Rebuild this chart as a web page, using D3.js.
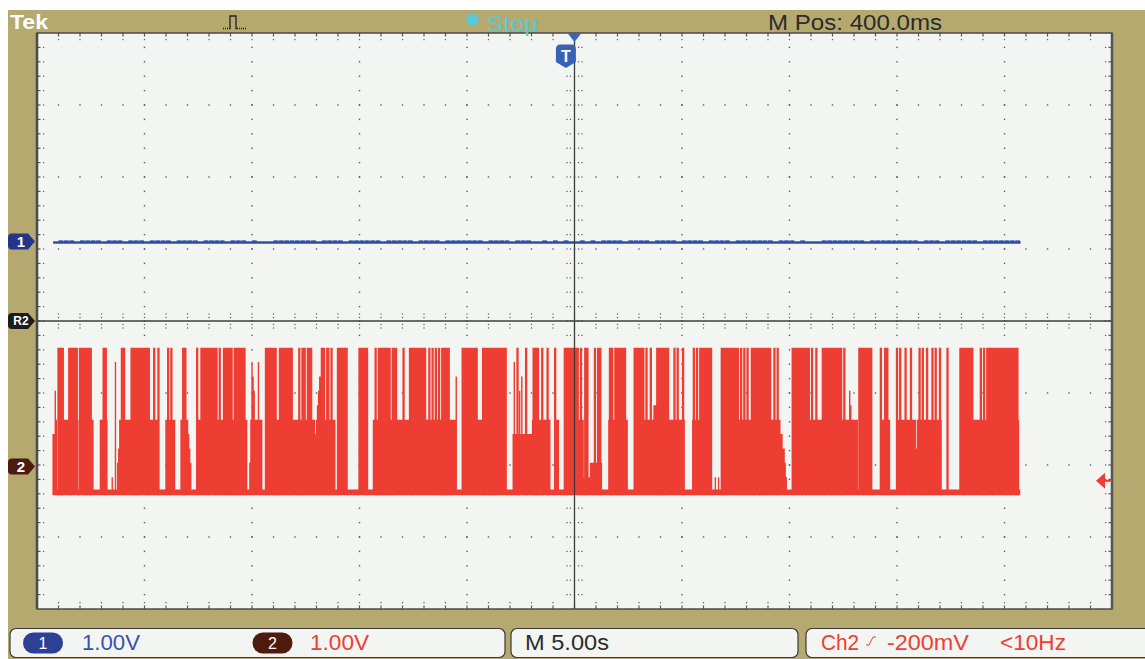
<!DOCTYPE html>
<html><head><meta charset="utf-8">
<script src="https://cdn.jsdelivr.net/npm/d3@7"></script>
<style>
body{margin:0;background:#fff}
svg{display:block}
text{font-family:"Liberation Sans",Arial,Helvetica,sans-serif}
</style>
</head><body>
<svg id="c" width="1145" height="659"></svg>
<script>
// ---------------- data ----------------
const timeDomain = [-24.6, 25.4];          // seconds (5.00 s/div, M Pos 400 ms)
const divDomain = [-4, 4];                  // vertical divisions
const voltsPerDiv = 1.0;
const ch1Offset = 1.09;                     // divisions above centre
const ch2Offset = -2.02;                    // divisions below centre
const triggerLevel = -0.2;                  // V on Ch2
const triggerTime = 0;                      // s
const mPos = 0.4;                           // s

// Ch2: one string per division, one sample each 0.05 s; '-' = no data,
// '0'..'9' = level step, 'H' = high level
const ch2Low = -0.35, ch2High = 1.65, ch2SampleDt = 0.05;
const ch2Chunks = [
  "---------------" + "4475" + "0" + "H5H5H5" + "5555" + "HH5HHHHH" + "50" + "HHHH5HH" + "5H5H55" + "000000" + "555" + "H5H5" + "000" + "010" + "090" + "2355H5H5" + "55555" + "H0H5H0" + "HHHHHH",
  "H5H5H5" + "555H555H" + "000000" + "55H55H555" + "00000" + "55H5H55432" + "00000" + "H555" + "H5HH5HHHHHHHH5H" + "55H555H5H" + "H5H5H55" + "H5HHH5H" + "H5H55" + "0025",
  "987" + "55" + "59555" + "000" + "H5H5HH5H5H" + "555" + "HHH5HHHH5HHH" + "555555" + "H55H5H55H5HH" + "555" + "456788" + "H5H55H" + "H5" + "5H555" + "00" + "HHHHHHHHH" + "00000000000",
  "HHHHH" + "H5H00000" + "55H55" + "H5HH5H5HH5H55H5HH55" + "5555H5555" + "5" + "HH5HHHHH5HHHHH" + "H555H55H55H55H55" + "H5H5H5H" + "5555558" + "00000" + "HHHH",
  "HH5HHH5HHH" + "55555H5H5" + "H5H5H5H5H" + "HHH5HHHHH" + "000000" + "4944H4748" + "444H44444" + "5H5H5H555H5555H55" + "0000" + "H555" + "00000" + "HH5HHH5HH",
  "HH" + "5H55H55" + "1H1H112222H22H2H2" + "000000" + "5H5H55" + "H5H5HH5H5H55" + "000000" + "HHHHHHHHH" + "55H555H55" + "666" + "H5H5HH5H5HH5" + "5555H55H5" + "55",
  "5H5" + "0000000" + "5H55H55H5" + "HH5HH5HHH" + "00010010" + "0H0H0" + "HH5HHH5HH5HH" + "55H55H55H555" + "H5H5HHH5H5HH5H5HHH5" + "55H55H55" + "443321" + "00",
  "000" + "HH5HH5HHH5HH5HHH" + "55H555H55555" + "HHH5HHHH5HHH5HHH" + "5H55H5555" + "765555550" + "HHHH5HHHHHHH" + "00000000" + "H555H5H55" + "000000",
  "H55H5555H555" + "5H5555355" + "H55H555H555" + "5H55H555H5" + "00000H000" + "00000000" + "HHHH5HHHHH" + "5H5555555" + "H55H5" + "5HHHHH5HHHHHHHH" + "HH",
  "HH5HHH5HHHH5H50"
];

// Ch1: one string per division, one sample each 0.25 s; '1' = small ripple up
const ch1Level = 0, ch1Ripple = 0.03, ch1SampleDt = 0.25;
const ch1Chunks = [
  "---01110111101110111",
  "01111011110111101110",
  "10001111111101111011",
  "11110111110111101111",
  "11101111011100101010",
  "01010111101111011110",
  "11110111101111111011",
  "10100011111111011111",
  "11110111011111101111",
  "111"
];

// texts
const headerTexts = {brand: "Tek", state: "Stop", mpos: "M Pos: 400.0ms"};
const chScales = ["1.00V", "1.00V"];
const timebase = "M 5.00s";
const trigSource = "Ch2", trigLevelText = "-200mV", trigFreq = "<10Hz";

// ---------------- drawing ----------------
const svg = d3.select("#c");
const W = 1145, H = 659;
const G = {x0: 37, x1: 1112, y0: 33, y1: 609};
const x = d3.scaleLinear().domain(timeDomain).range([G.x0, G.x1]);
const yD = d3.scaleLinear().domain(divDomain).range([G.y1, G.y0]);
const y1 = v => yD(ch1Offset + v / voltsPerDiv);
const y2 = v => yD(ch2Offset + v / voltsPerDiv);

const khaki = "#b5a970", screenBg = "#f2f5f2", dotC = "#5a5a5a";
const blue = "#2f4ea8", red = "#ee3d33";

svg.append("rect").attr("width", W).attr("height", H).attr("fill", "#fff");
svg.append("rect").attr("x", 8).attr("y", 10).attr("width", W - 8).attr("height", H - 10).attr("fill", khaki);
svg.append("rect").attr("x", G.x0).attr("y", G.y0).attr("width", G.x1 - G.x0).attr("height", G.y1 - G.y0).attr("fill", screenBg);

// grid
const grid = svg.append("g").attr("fill", dotC);
const majorT = d3.range(1, 10).map(k => timeDomain[0] + 5 * k);
const minorT = d3.range(1, 50).map(k => timeDomain[0] + k);
const majorV = d3.range(-3, 4);
const minorV = d3.range(1, 40).map(k => -4 + 0.2 * k);
const centerT = timeDomain[0] + 25;
majorT.forEach(t => {
  if (Math.abs(t - centerT) < 1e-6) return;
  minorV.forEach(v => grid.append("rect").attr("x", x(t) - 0.7).attr("y", yD(v) - 0.7).attr("width", 1.4).attr("height", 1.4));
});
majorV.forEach(v => {
  if (v === 0) return;
  minorT.forEach(t => grid.append("rect").attr("x", x(t) - 0.7).attr("y", yD(v) - 0.7).attr("width", 1.4).attr("height", 1.4));
});
// edge ticks
minorT.forEach(t => {
  grid.append("rect").attr("x", x(t) - 0.6).attr("y", G.y0).attr("width", 1.2).attr("height", 3.5);
  grid.append("rect").attr("x", x(t) - 0.6).attr("y", G.y0 + 6).attr("width", 1.2).attr("height", 1.2);
  grid.append("rect").attr("x", x(t) - 0.6).attr("y", G.y1 - 3.5).attr("width", 1.2).attr("height", 3.5);
  grid.append("rect").attr("x", x(t) - 0.6).attr("y", G.y1 - 7).attr("width", 1.2).attr("height", 1.2);
  [-7, -3.5, 3.5, 7].forEach(o => grid.append("rect").attr("x", x(t) - 0.6).attr("y", yD(0) + o - 0.6).attr("width", 1.2).attr("height", 1.2));
});
minorV.forEach(v => {
  grid.append("rect").attr("x", G.x0).attr("y", yD(v) - 0.6).attr("width", 3.5).attr("height", 1.2);
  grid.append("rect").attr("x", G.x0 + 6).attr("y", yD(v) - 0.6).attr("width", 1.2).attr("height", 1.2);
  grid.append("rect").attr("x", G.x1 - 3.5).attr("y", yD(v) - 0.6).attr("width", 3.5).attr("height", 1.2);
  grid.append("rect").attr("x", G.x1 - 7).attr("y", yD(v) - 0.6).attr("width", 1.2).attr("height", 1.2);
  [-7.5, -4, 4, 7.5].forEach(o => grid.append("rect").attr("x", x(centerT) + o - 0.6).attr("y", yD(v) - 0.6).attr("width", 1.2).attr("height", 1.2));
});

// ch1 trace
const ch1Samples = [];
ch1Chunks.forEach((s, k) => {
  [...s].forEach((c, j) => {
    if (c === "-") return;
    ch1Samples.push({t: timeDomain[0] + 5 * k + j * ch1SampleDt, r: c === "1"});
  });
});
const ch1g = svg.append("g");
const ch1Start = ch1Samples[0].t, ch1End = ch1Samples[ch1Samples.length - 1].t + ch1SampleDt;
ch1g.append("path")
  .attr("d", d3.line()([[x(ch1Start), y1(ch1Level)], [x(ch1End), y1(ch1Level)]]))
  .attr("stroke", blue).attr("stroke-width", 2.6).attr("fill", "none");
ch1Samples.filter(d => d.r).forEach(d => {
  ch1g.append("rect")
    .attr("x", x(d.t)).attr("width", x(d.t + ch1SampleDt) - x(d.t) - 0.6)
    .attr("y", y1(ch1Level + ch1Ripple)).attr("height", y1(ch1Level) - y1(ch1Level + ch1Ripple))
    .attr("fill", blue);
});

// ch2 trace (peak-detect columns)
const ch2Samples = [];
ch2Chunks.forEach((s, k) => {
  [...s].forEach((c, j) => {
    if (c === "-") return;
    const frac = c === "H" ? 1 : (+c) / 10;
    ch2Samples.push({t: timeDomain[0] + 5 * k + j * ch2SampleDt, v: ch2Low + frac * (ch2High - ch2Low), hi: c === "H"});
  });
});
let dLo = "", dHi = "";
ch2Samples.forEach(d => {
  const xx = x(d.t).toFixed(2);
  const seg = `M${xx},${y2(ch2Low - 0.05).toFixed(2)}V${Math.min(y2(d.v), y2(ch2Low + 0.03)).toFixed(2)}`;
  if (d.hi) dHi += seg; else dLo += seg;
});
svg.append("path").attr("d", dLo).attr("stroke", red).attr("stroke-width", 1.4).attr("fill", "none");
svg.append("path").attr("d", dHi).attr("stroke", red).attr("stroke-width", 2.3).attr("fill", "none");
// baseline
svg.append("path")
  .attr("d", d3.line()([[x(ch2Samples[0].t), y2(ch2Low)], [x(ch2Samples[ch2Samples.length - 1].t), y2(ch2Low)]]))
  .attr("stroke", red).attr("stroke-width", 3).attr("fill", "none");

// centre cross (solid)
svg.append("line").attr("x1", G.x0).attr("x2", G.x1).attr("y1", yD(0)).attr("y2", yD(0)).attr("stroke", "#3c3c3c").attr("stroke-width", 1.3);
svg.append("line").attr("x1", x(centerT)).attr("x2", x(centerT)).attr("y1", G.y0).attr("y2", G.y1).attr("stroke", "#3c3c3c").attr("stroke-width", 1.3);

// border
svg.append("rect").attr("x", G.x0).attr("y", G.y0).attr("width", G.x1 - G.x0).attr("height", G.y1 - G.y0)
  .attr("fill", "none").attr("stroke", "#4a4a4a").attr("stroke-width", 1.5);
svg.append("line").attr("x1", G.x0).attr("x2", G.x0).attr("y1", G.y0).attr("y2", G.y1).attr("stroke", "#4a4a4a").attr("stroke-width", 2.5);
svg.append("line").attr("x1", G.x1).attr("x2", G.x1).attr("y1", G.y0).attr("y2", G.y1).attr("stroke", "#555").attr("stroke-width", 2.5);

// M Pos marker (top) and trigger T badge
const mx = x(mPos);
svg.append("path").attr("d", `M${mx - 7},${G.y0}L${mx + 7},${G.y0}L${mx},${G.y0 + 9}Z`).attr("fill", "#3d66bb");
const tx = x(triggerTime);
svg.append("path")
  .attr("d", `M${tx - 10},${49}Q${tx - 10},${44.5} ${tx - 5.5},${44.5}L${tx + 5.5},${44.5}Q${tx + 10},${44.5} ${tx + 10},${49}L${tx + 10},${62}L${tx},${68}L${tx - 10},${62}Z`)
  .attr("fill", "#3a62b4");
svg.append("text").attr("x", tx).attr("y", 62).attr("text-anchor", "middle").attr("fill", "#fff")
  .attr("font-size", 16).attr("font-weight", "bold").text("T");

// trigger level arrow (right)
const ty = y2(triggerLevel);
svg.append("path").attr("d", `M${G.x1 - 16},${ty}L${G.x1 - 7},${ty - 8}L${G.x1 - 7},${ty + 8}Z`).attr("fill", red);
svg.append("line").attr("x1", G.x1 - 8).attr("x2", G.x1).attr("y1", ty).attr("y2", ty).attr("stroke", red).attr("stroke-width", 2);

// left channel markers
function badge(yc, fill, label, fs) {
  svg.append("path")
    .attr("d", `M12,${yc - 8}L28,${yc - 8}L35,${yc}L28,${yc + 8}L12,${yc + 8}Q8,${yc + 8} 8,${yc + 4}L8,${yc - 4}Q8,${yc - 8} 12,${yc - 8}Z`)
    .attr("fill", fill);
  svg.append("text").attr("x", 21).attr("y", yc + fs * 0.36).attr("text-anchor", "middle").attr("fill", "#fff")
    .attr("font-size", fs).attr("font-weight", "bold").text(label);
}
badge(y1(0) - 1, "#25358c", "1", 15);
badge(yD(0), "#1c1c1c", "R2", 12);
badge(y2(0), "#4b1b10", "2", 15);

// header
svg.append("text").attr("x", 10).attr("y", 28.5).attr("fill", "#fff").attr("font-size", 21).attr("font-weight", "bold")
  .attr("textLength", 38).attr("lengthAdjust", "spacingAndGlyphs").text(headerTexts.brand);
svg.append("path").attr("d", "M229,28.5H230V16H236V28.5H237").attr("stroke", "#222").attr("stroke-width", 1.3).attr("fill", "none");
svg.append("path").attr("d", "M237,28.5H247").attr("stroke", "#222").attr("stroke-width", 1.3).attr("stroke-dasharray", "1,1").attr("fill", "none");
svg.append("path").attr("d", "M223,28.5H229").attr("stroke", "#222").attr("stroke-width", 1.3).attr("stroke-dasharray", "1,1").attr("fill", "none");
svg.append("circle").attr("cx", 472.5).attr("cy", 19.5).attr("r", 6.3).attr("fill", "#5cc8d2");
svg.append("text").attr("x", 487).attr("y", 30.7).attr("fill", "#5cc8d2").attr("font-size", 22)
  .attr("textLength", 51).attr("lengthAdjust", "spacingAndGlyphs").text(headerTexts.state);
svg.append("text").attr("x", 768).attr("y", 29.5).attr("fill", "#2b2b2b").attr("font-size", 22)
  .attr("textLength", 174).attr("lengthAdjust", "spacingAndGlyphs").text(headerTexts.mpos);

// bottom status boxes
const boxes = [[10, 505], [511, 798], [806, 1160]];
boxes.forEach(([a, b]) => svg.append("rect").attr("x", a).attr("y", 628.5).attr("width", b - a).attr("height", 29)
  .attr("rx", 6).attr("fill", screenBg).attr("stroke", "#3a3a3a").attr("stroke-width", 1.2));
function pill(cx, fill, label) {
  svg.append("rect").attr("x", cx - 20).attr("y", 632.5).attr("width", 40).attr("height", 21).attr("rx", 10.5).attr("fill", fill);
  svg.append("text").attr("x", cx).attr("y", 649).attr("text-anchor", "middle").attr("fill", "#fff").attr("font-size", 16).text(label);
}
pill(43, "#2d3f96", "1");
pill(272.5, "#4e1a0d", "2");
const bt = (tx_, txt, col, len) => svg.append("text").attr("x", tx_).attr("y", 650).attr("fill", col).attr("font-size", 22)
  .attr("textLength", len).attr("lengthAdjust", "spacingAndGlyphs").text(txt);
bt(82, chScales[0], "#3a4fb0", 58);
bt(310, chScales[1], red, 59);
bt(525, timebase, "#2b2b2b", 84);
bt(821, trigSource, red, 38);
svg.append("path").attr("d", "M866,645L869,645L873,637L876,637").attr("stroke", red).attr("stroke-width", 1).attr("fill", "none");
bt(887, trigLevelText, red, 82);
bt(1000, trigFreq, red, 66);
</script>
</body></html>
